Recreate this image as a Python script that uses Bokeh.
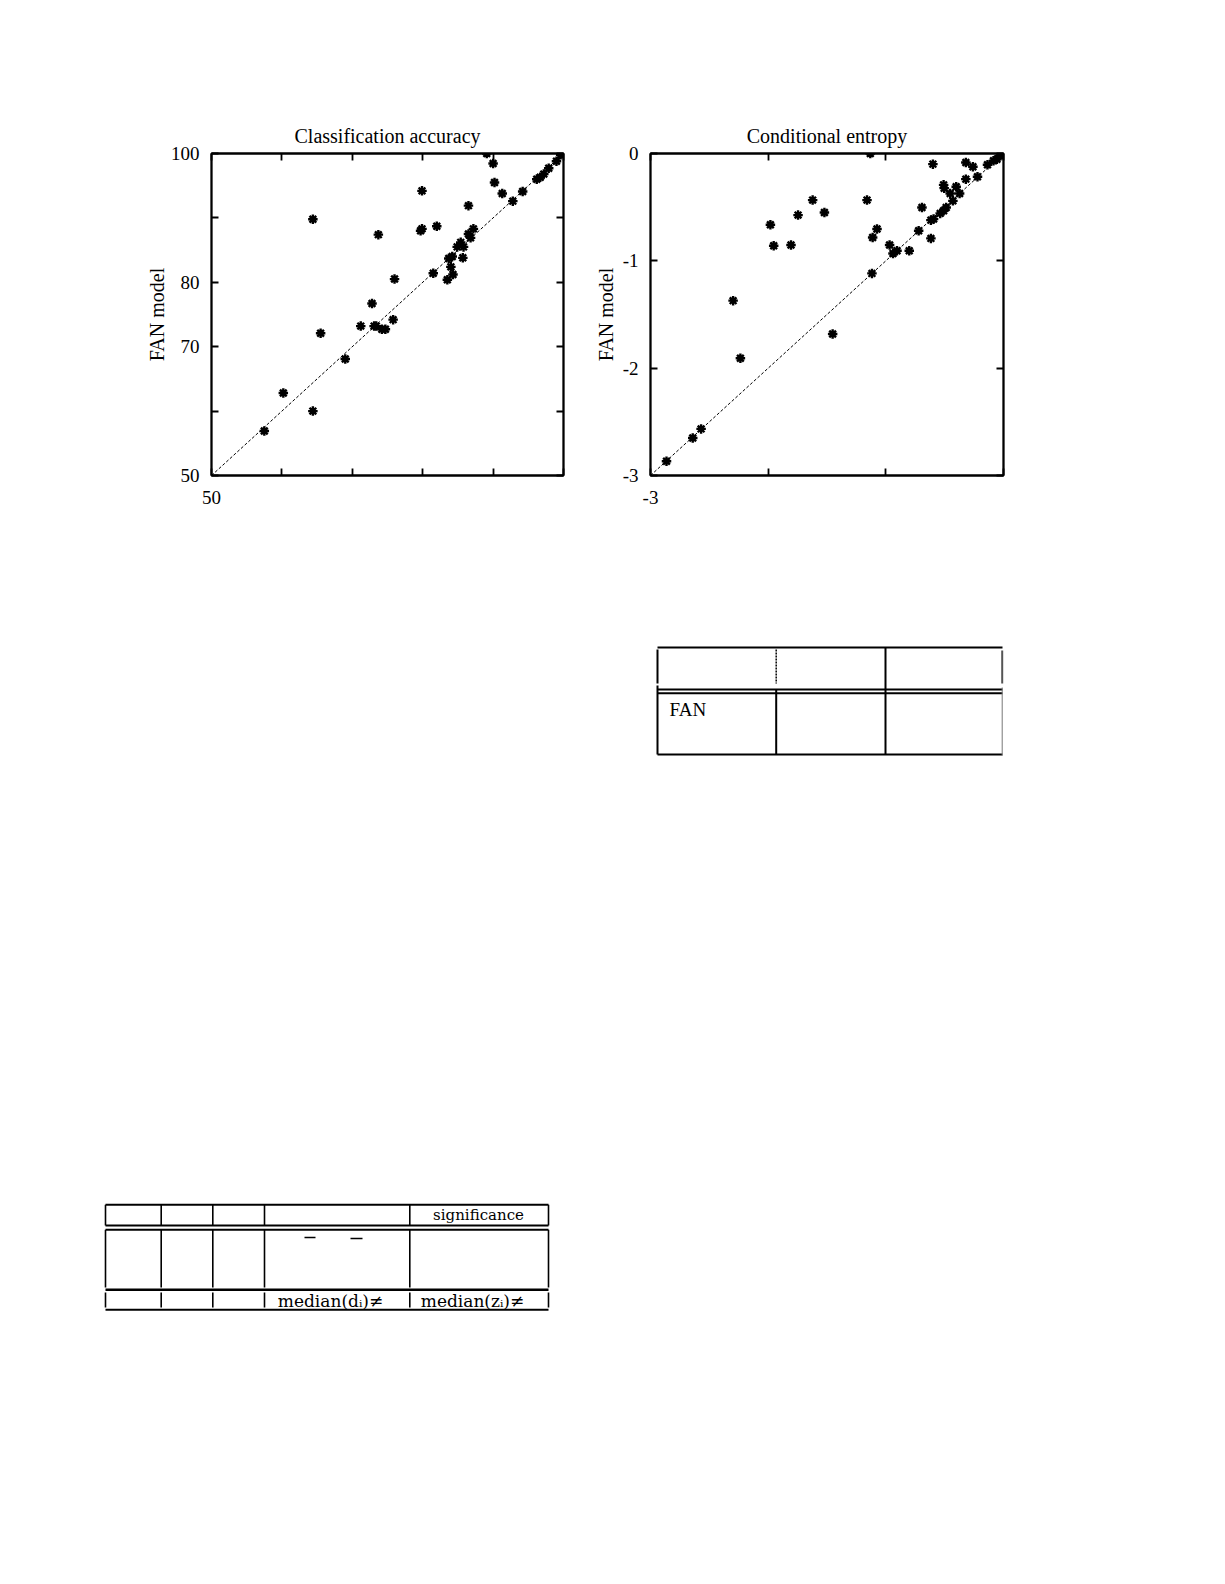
from bokeh.plotting import figure
from bokeh.models import FixedTicker, LinearAxis, Range1d, Spacer
from bokeh.layouts import column, row
from bokeh.embed import file_html
from bokeh.resources import INLINE
from bokeh.core.properties import value

# ---------------- data ----------------
# Classification accuracy (x: other model, y: FAN model)
acc_x = [89.1, 90.0, 90.2, 91.3, 79.9, 86.5, 64.4, 82.0, 79.7, 79.9, 73.7, 87.2,
         86.5, 86.8, 85.4, 84.9, 85.8, 83.7, 84.2, 85.7, 84.0, 84.3, 83.5, 81.5,
         76.0, 72.8, 71.2, 73.1, 73.4, 74.2, 74.7, 75.8, 65.5, 69.0, 60.2, 64.4,
         57.5, 92.8, 94.2, 96.2, 96.7, 97.2, 97.9, 99.0, 99.6, 99.9]
acc_y = [100.0, 98.45, 95.5, 93.8, 94.2, 91.9, 89.8, 88.7, 88.0, 88.3, 87.4, 88.3,
         87.5, 86.9, 86.2, 85.5, 85.5, 83.7, 84.0, 83.8, 82.4, 81.2, 80.4, 81.4,
         80.5, 76.7, 73.2, 73.2, 73.2, 72.7, 72.7, 74.2, 72.1, 68.1, 62.8, 60.0,
         56.9, 92.6, 94.1, 96.0, 96.3, 96.8, 97.7, 98.8, 99.8, 100.0]

# Conditional entropy (x: other model, y: FAN model)
ent_x = [-1.132, -0.600, -0.320, -0.260, -0.136, -0.085, -0.056, -0.034, -0.014,
         -0.320, -0.221, -0.509, -0.504, -0.402, -0.453, -0.373, -0.430, -0.487,
         -0.509, -0.538, -0.594, -0.617, -0.693, -0.721, -0.617, -0.801, -0.905,
         -0.939, -0.968, -1.118, -1.075, -1.112, -1.160, -1.622, -1.522, -1.746,
         -1.981, -1.953, -1.806, -1.452, -2.298, -2.236, -2.570, -2.641, -2.864]
ent_y = [0.0, -0.099, -0.084, -0.124, -0.105, -0.068, -0.053, -0.022, 0.0,
         -0.239, -0.217, -0.292, -0.323, -0.310, -0.372, -0.372, -0.441, -0.503,
         -0.534, -0.558, -0.611, -0.621, -0.503, -0.720, -0.791, -0.906, -0.906,
         -0.931, -0.853, -1.117, -0.704, -0.782, -0.434, -0.434, -0.549, -0.574,
         -0.664, -0.859, -0.853, -1.682, -1.371, -1.908, -2.566, -2.650, -2.867]

# all tick positions, and the ones that carry a label in the scan
acc_ticks = [50, 60, 70, 80, 90, 100]
acc_y_labelled = [50, 70, 80, 100]
acc_x_labelled = [50]

ent_ticks = [-3, -2, -1, 0]
ent_y_labelled = [-3, -2, -1, 0]
ent_x_labelled = [-3]

titles = ["Classification accuracy", "Conditional entropy"]
y_label = "FAN model"

table1_cell = "FAN"
table2_header = "significance"
table2_foot = ["median(dᵢ)≠", "median(zᵢ)≠"]

SERIF = "Liberation Serif"
TEX = "DejaVu Serif"


def style_axis(ax, ticks, labelled, standoff=12):
    unlabelled = [t for t in ticks if t not in labelled]
    ax.ticker = FixedTicker(ticks=labelled, minor_ticks=unlabelled)
    for kind in ("major", "minor"):
        setattr(ax, kind + "_tick_in", 7)
        setattr(ax, kind + "_tick_out", 0)
        setattr(ax, kind + "_tick_line_width", 1.8)
        setattr(ax, kind + "_tick_line_color", "black")
    ax.axis_line_width = 1.8
    ax.axis_line_color = "black"
    ax.major_label_text_font = SERIF
    ax.major_label_text_color = "black"
    ax.major_label_text_font_size = "19px"
    ax.major_label_standoff = standoff
    # plain hyphen-minus as in the scan
    ax.major_label_overrides = {t: str(t) for t in labelled}


def scatter_panel(title, xs, ys, lo, hi, ticks, ylab, xlab,
                  left, right, top, bottom, fw, fh, ylab_standoff):
    p = figure(width=left + fw + right, height=top + fh + bottom,
               x_range=Range1d(lo, hi), y_range=Range1d(lo, hi),
               output_backend="svg", toolbar_location=None,
               min_border_left=left, min_border_right=right,
               min_border_top=top, min_border_bottom=bottom)
    p.grid.visible = False
    p.outline_line_color = "black"
    p.outline_line_width = 1.8
    p.background_fill_color = "white"
    p.border_fill_color = "white"

    p.title.text = title
    p.title.align = "center"
    p.title.text_font = SERIF
    p.title.text_font_size = "20px"
    p.title.text_font_style = "normal"
    p.title.text_color = "black"
    p.title.standoff = 13

    p.line([lo, hi], [lo, hi], line_dash="3 2", line_width=1, line_color="black")
    p.scatter(xs, ys, marker="asterisk", size=9.5, line_width=2.4, line_color="black")

    style_axis(p.xaxis[0], ticks, xlab, standoff=15)
    style_axis(p.yaxis[0], ticks, ylab, standoff=12)
    p.yaxis[0].axis_label = y_label
    p.yaxis[0].axis_label_text_font = SERIF
    p.yaxis[0].axis_label_text_font_size = "20px"
    p.yaxis[0].axis_label_text_font_style = "normal"
    p.yaxis[0].axis_label_text_color = "black"
    p.yaxis[0].axis_label_standoff = ylab_standoff

    # tick marks only (no labels) on the right and top edges
    r_ax = LinearAxis()
    style_axis(r_ax, ticks, [])
    p.add_layout(r_ax, "right")
    t_ax = LinearAxis()
    style_axis(t_ax, ticks, [])
    p.add_layout(t_ax, "above")
    return p


p1 = scatter_panel(titles[0], acc_x, acc_y, 50, 100, acc_ticks, acc_y_labelled, acc_x_labelled,
                   left=111, right=17, top=53, bottom=54, fw=352, fh=323, ylab_standoff=0)
p2 = scatter_panel(titles[1], ent_x, ent_y, -3, 0, ent_ticks, ent_y_labelled, ent_x_labelled,
                   left=70, right=27, top=53, bottom=55, fw=353, fh=322, ylab_standoff=3)


def blank(w, h):
    p = figure(width=w, height=h, x_range=Range1d(0, w), y_range=Range1d(h, 0),
               output_backend="svg", toolbar_location=None,
               x_axis_type=None, y_axis_type=None,
               min_border_left=0, min_border_right=0, min_border_top=0, min_border_bottom=0)
    p.grid.visible = False
    p.outline_line_color = None
    p.background_fill_color = "white"
    p.border_fill_color = "white"
    return p


# ---- table 1 (rule lines only, scanned fragment) ----
t1 = blank(360, 120)
t1.segment([7, 7, 235, 7, 7, 7], [7, 49, 7, 52.7, 114, 9],
           [352, 352, 235, 352, 352, 7], [7, 49, 114, 52.7, 114, 43],
           line_color="black", line_width=2)
t1.segment([7, 125.7], [45, 49], [7, 125.7], [114, 114], line_color="black", line_width=2)
t1.segment([125.7], [9], [125.7], [43], line_color="black", line_width=1.5, line_dash="2 1")
t1.segment([351.7], [10], [351.7], [43], line_color="#555555", line_width=2)
t1.segment([351.7], [47], [351.7], [115], line_color="#777777", line_width=1)
t1.text([19], [69], text=[table1_cell], text_font=value(SERIF), text_font_size="19px",
        text_baseline="alphabetic", text_color="black")

# ---- table 2 (rule lines only, scanned fragment) ----
t2 = blank(455, 120)
cols = [5, 60.7, 112.3, 164, 309.3, 448]
t2.segment([5, 5, 5, 5], [9.3, 30, 34.3, 114.3], [448, 448, 448, 448], [9.3, 30, 34.3, 114.3],
           line_color="black", line_width=2)
t2.segment([5], [94.3], [448], [94.3], line_color="black", line_width=2.6)
t2.segment(cols, [9.3] * 6, cols, [30] * 6, line_color="black", line_width=1.6)
t2.segment(cols, [34.3] * 6, cols, [92] * 6, line_color="black", line_width=1.6)
t2.segment(cols, [97] * 6, cols, [112] * 6, line_color="black", line_width=1.6)
t2.segment([204, 250], [42, 43], [215, 262], [42, 43], line_color="black", line_width=1.6)
t2.text([378], [19], text=[table2_header], text_font=value(TEX), text_font_size="15px",
        text_align="center", text_baseline="middle", text_color="black")
t2.text([230, 372], [105, 105], text=table2_foot, text_font=value(TEX), text_font_size="17px",
        text_align="center", text_baseline="middle", text_color="black")

layout = column(
    Spacer(width=10, height=100),
    row(Spacer(width=100, height=10), p1, p2),
    Spacer(width=10, height=110),
    row(Spacer(width=650, height=10), t1),
    Spacer(width=10, height=435),
    row(Spacer(width=100, height=10), t2),
)

open("out.html", "w").write(file_html(layout, INLINE))
